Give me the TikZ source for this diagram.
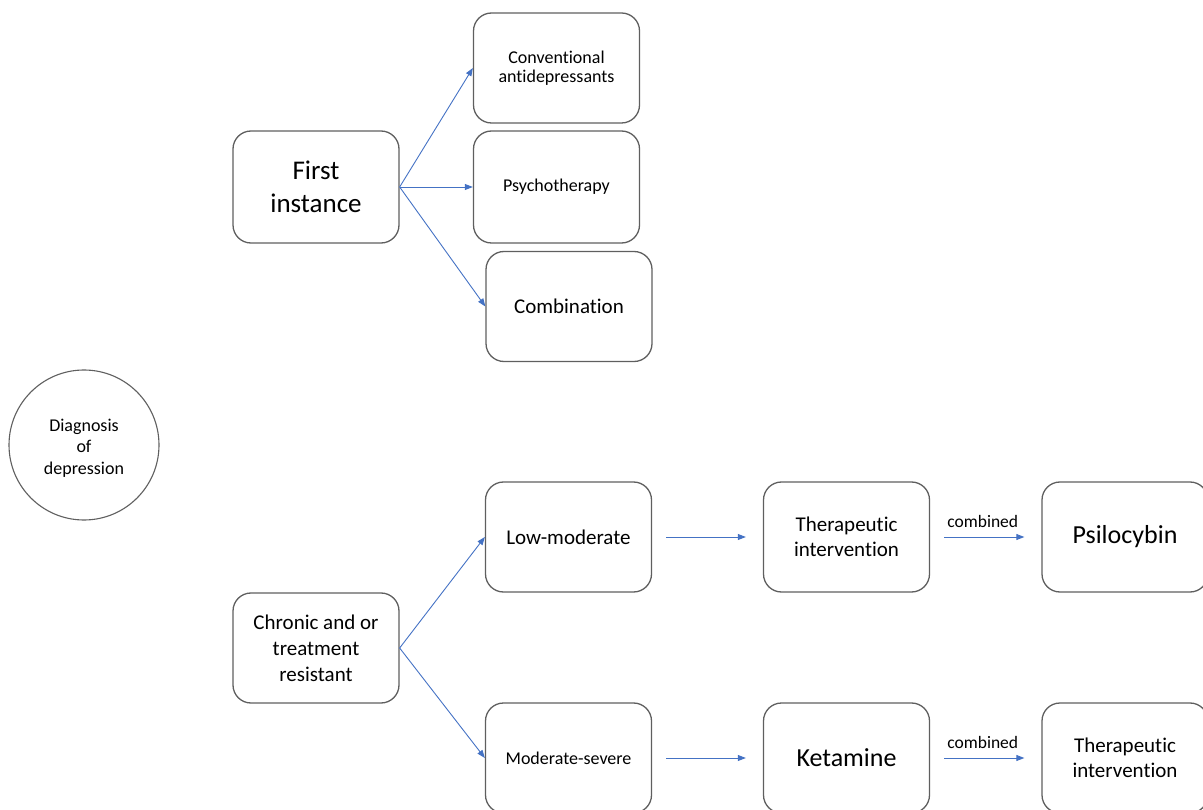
\documentclass[tikz,border=0pt]{standalone}
\usepackage{fontspec}
\setmainfont{Carlito}[Ligatures={NoCommon}]
\usetikzlibrary{arrows.meta}
\definecolor{arrowblue}{HTML}{4472C4}
\definecolor{boxgray}{HTML}{5F5F5F}
\tikzset{
  box/.style={draw=boxgray, line width=1.3pt, rounded corners=18pt, inner sep=0pt,
    minimum width=166pt, minimum height=110pt, align=center, text=black},
  circ/.style={draw=boxgray, line width=1.1pt, circle, inner sep=0pt, minimum size=150pt, align=center},
  conn/.style={draw=arrowblue, line width=0.9pt, -{Triangle[length=8pt,width=6pt]}},
  lbl/.style={inner sep=0pt, text=black},
}
\newcommand{\fs}[2]{\fontsize{#1}{#2}\selectfont}
\begin{document}
\begin{tikzpicture}[x=1pt,y=-1pt]
\useasboundingbox (0,0) rectangle (1203,810);
\node[circ] (diag) at (84,445) {};
\node[inner sep=0pt, align=center, font=\fs{18}{21.5}] (diagtext) at (84,448) {Diagnosis\\of\\depression};
\node[box, minimum height=112pt, font=\fs{27}{33}] (first) at (316,187) {First\\instance};
\node[box, font=\fs{18}{19.5}] (conv) at (556.5,68) {Conventional\\antidepressants};
\node[box, minimum height=112pt, font=\fs{18}{20}] (psych) at (556.5,187) {Psychotherapy};
\node[box, font=\fs{21}{25}] (comb) at (569,306.5) {Combination};
\node[box, font=\fs{21}{26}] (chronic) at (316,648) {Chronic and or\\treatment\\resistant};
\node[box, font=\fs{21}{25}] (low) at (568.5,537) {Low-moderate};
\node[box, font=\fs{18}{22}] (mods) at (568.5,758) {Moderate-severe};
\node[box, font=\fs{21}{25}] (thera1) at (846.5,537) {Therapeutic\\intervention};
\node[box, font=\fs{26}{30}] (psilo) at (1125,537) {Psilocybin};
\node[box, font=\fs{26}{30}] (ket) at (846.5,758) {Ketamine};
\node[box, font=\fs{21}{25}] (thera2) at (1125,758) {Therapeutic\\intervention};

\draw[conn] (first.east) -- (conv.west);
\draw[conn] (first.east) -- (psych.west);
\draw[conn] (first.east) -- (comb.west);
\draw[conn] (chronic.east) -- (low.west);
\draw[conn] (chronic.east) -- (mods.west);
\draw[conn, shorten <=14pt, shorten >=17pt] (low.east) -- (thera1.west);
\draw[conn, shorten <=14pt, shorten >=17pt] (mods.east) -- (ket.west);
\draw[conn, shorten <=14pt, shorten >=17pt] (thera1.east) -- node[lbl, above, yshift=9pt, xshift=-3pt, font=\fs{17.5}{20}] {combined} (psilo.west);
\draw[conn, shorten <=14pt, shorten >=17pt] (ket.east) -- node[lbl, above, yshift=9pt, xshift=-3pt, font=\fs{17.5}{20}] {combined} (thera2.west);
\end{tikzpicture}
\end{document}
